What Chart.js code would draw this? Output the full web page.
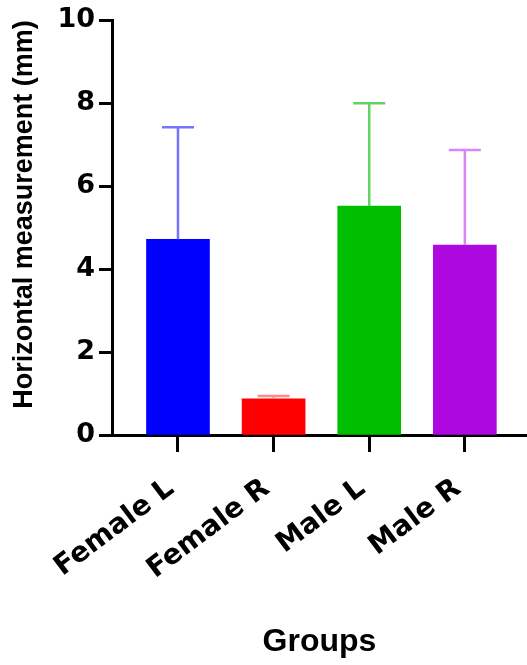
<!DOCTYPE html>
<html>
<head>
<meta charset="utf-8">
<script src="https://cdn.jsdelivr.net/npm/chart.js@4"></script>
<style>
  html, body { margin: 0; padding: 0; background: #fff; }
  #wrap { width: 527px; height: 665px; }
</style>
</head>
<body>
<div id="wrap"><canvas id="groupChart" width="527" height="665"></canvas></div>
<script>
// data
const categories = ['Female L', 'Female R', 'Male L', 'Male R'];
const means = [4.72, 0.87, 5.52, 4.58];
const sds = [2.70, 0.07, 2.48, 2.29];
const yTicks = [0, 2, 4, 6, 8, 10];

const barColors = ['#0000ff', '#ff0000', '#00bf00', '#ae08e0'];
const errColors = ['#7474ff', '#ff8a8a', '#62d262', '#da84f6'];

// error bars (mean + SD, upper only)
const errorBars = {
    id: 'errorBars',
    afterDatasetsDraw(chart) {
        const meta = chart.getDatasetMeta(0);
        const yScale = chart.scales.y;
        const c = chart.ctx;
        c.save();
        c.lineWidth = 2.5;
        meta.data.forEach((bar, i) => {
            const x = bar.x;
            const yTop = yScale.getPixelForValue(means[i] + sds[i]);
            const yBar = yScale.getPixelForValue(means[i]);
            c.strokeStyle = errColors[i];
            c.beginPath();
            c.moveTo(x, yBar);
            c.lineTo(x, yTop);
            c.moveTo(x - 16, yTop);
            c.lineTo(x + 16, yTop);
            c.stroke();
        });
        c.restore();
    }
};

const ctx = document.getElementById('groupChart');
new Chart(ctx, {
    type: 'bar',
    data: {
        datasets: [{
            data: means.map((m, i) => ({ x: i, y: m })),
            backgroundColor: barColors,
            borderWidth: 0,
            barThickness: 63
        }]
    },
    options: {
        responsive: false,
        animation: false,
        layout: { padding: { top: 20, left: 0, right: 0, bottom: 0 } },
        plugins: {
            legend: { display: false },
            tooltip: { enabled: false }
        },
        scales: {
            x: {
                type: 'linear',
                offset: false,
                min: -0.69,
                max: 3.65,
                afterBuildTicks: s => { s.ticks = categories.map((c, i) => ({ value: i })); },
                afterFit: s => { s.height = 230; },
                grid: { offset: false, drawOnChartArea: false, drawTicks: true, tickLength: 17, tickWidth: 3, tickColor: '#000' },
                border: { color: '#000', width: 3 },
                ticks: {
                    autoSkip: false,
                    minRotation: 37,
                    maxRotation: 37,
                    padding: 20,
                    labelOffset: -7,
                    color: '#000',
                    font: { family: 'DejaVu Sans', size: 28, weight: 'bold' },
                    callback: v => categories[v]
                },
                title: {
                    display: true,
                    text: 'Groups',
                    color: '#000',
                    font: { family: 'Liberation Sans', size: 32, weight: 'bold' },
                    padding: { top: 0, bottom: 4 }
                }
            },
            y: {
                min: 0,
                max: 10,
                afterBuildTicks: s => { s.ticks = yTicks.map(v => ({ value: v })); },
                afterFit: s => { s.width = 112; },
                grid: { drawOnChartArea: false, drawTicks: true, tickLength: 13, tickWidth: 3, tickColor: '#000' },
                border: { color: '#000', width: 3 },
                ticks: {
                    padding: 4,
                    color: '#000',
                    font: { family: 'DejaVu Sans', size: 27, weight: 'bold' }
                },
                title: {
                    display: true,
                    text: 'Horizontal measurement (mm)',
                    align: 'end',
                    color: '#000',
                    font: { family: 'Liberation Sans', size: 27, weight: 'bold' },
                    padding: { top: 8, bottom: 0 }
                }
            }
        }
    },
    plugins: [errorBars]
});
</script>
</body>
</html>
